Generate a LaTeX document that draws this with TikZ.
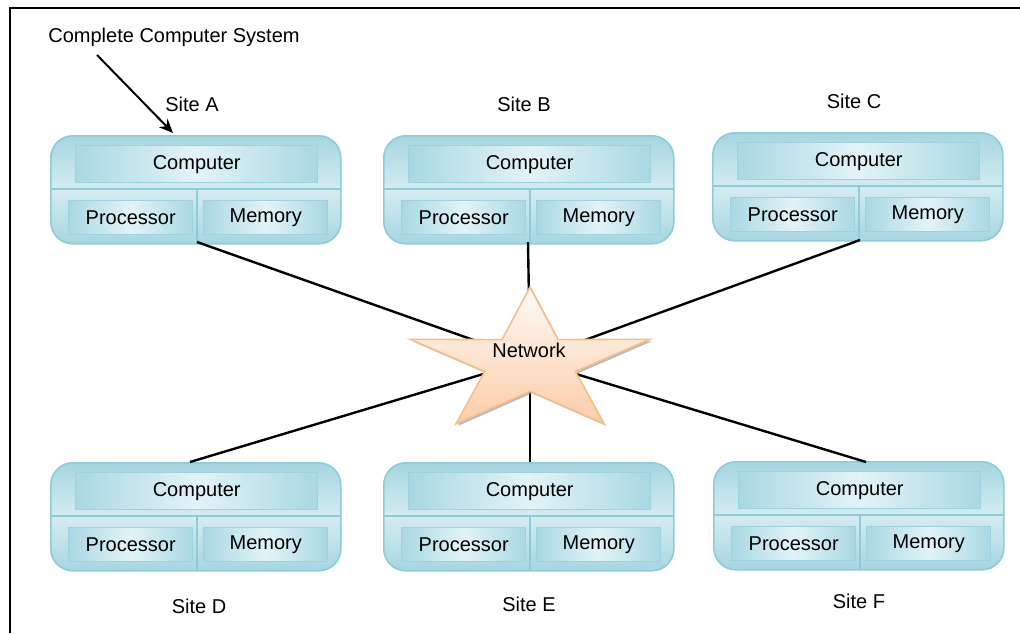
\documentclass[tikz,border=0pt]{standalone}
\usepackage{fontspec}
\setmainfont{Liberation Sans}
\usetikzlibrary{arrows.meta}

\definecolor{boxedge}{HTML}{8FCBD9}
\definecolor{boxdark}{HTML}{A6D6E1}
\definecolor{boxlight}{HTML}{D4ECF1}
\definecolor{celldark}{HTML}{A9D8E3}
\definecolor{celllight}{HTML}{E3F3F7}
\definecolor{celledge}{HTML}{9ED2DE}
\definecolor{staredge}{HTML}{F8BE8C}
\definecolor{startop}{HTML}{FFFBF8}
\definecolor{starbot}{HTML}{FBCDA8}

\tikzset{
  outerbox/.style={draw=boxedge, line width=0.8pt, rounded corners=11pt,
    top color=boxdark, bottom color=boxdark, middle color=boxlight,
    minimum width=145pt, minimum height=54pt, inner sep=0pt, anchor=north west},
  cellbox/.style={draw=celledge, line width=0.7pt,
    left color=celldark, right color=celldark, middle color=celllight,
    inner sep=0pt, anchor=north west},
  wide cell/.style={cellbox, minimum width=121pt, minimum height=18.5pt},
  half cell/.style={cellbox, minimum width=62pt, minimum height=17pt},
  divline/.style={draw=boxedge, line width=0.8pt},
  link/.style={draw=black, line width=1.2pt},
  sitelabel/.style={inner sep=0pt},
}

% one site: name, left x, top y
\newcommand{\sitebox}[3]{%
  \begin{scope}[shift={(#2,#3)}]
    \node[outerbox] (#1) at (0,0) {};
    \draw[divline] (0,54) -- (290,54);
    \draw[divline] (147,54) -- (147,108);
    \node[wide cell] (#1-comp) at (25,10) {Computer};
    \node[half cell] (#1-proc) at (18,65) {Processor};
    \node[half cell] (#1-mem) at (153,65) {Memory};
  \end{scope}}

\begin{document}
\begin{tikzpicture}[x=0.5pt, y=-0.5pt, font=\fontsize{10}{12}\selectfont]
  \useasboundingbox (0,0) rectangle (1020,633);

  % frame edges
  \draw[line width=1pt] (10,633) -- (10,8) -- (1020,8);

  % sites
  \sitebox{A}{50}{135}
  \sitebox{B}{383}{135}
  \sitebox{C}{712}{132}
  \sitebox{D}{50}{462}
  \sitebox{E}{383}{462}
  \sitebox{F}{713}{461}

  % site labels
  \node[sitelabel] (lA) at (192,104) {Site A};
  \node[sitelabel] (lB) at (524,104) {Site B};
  \node[sitelabel] (lC) at (854,101) {Site C};
  \node[sitelabel] (lD) at (199,606) {Site D};
  \node[sitelabel] (lE) at (529,604) {Site E};
  \node[sitelabel] (lF) at (859,601) {Site F};

  % caption with pointer
  \node[anchor=west, inner sep=0pt] (sys) at (48,37) {Complete Computer System};
  \coordinate (sysfoot) at (97,55);
  \coordinate (sitehead) at (173,133);
  \draw[line width=1pt, -{Stealth[length=7pt,width=6pt]}] (sysfoot) -- (sitehead);

  % network hub
  \node[inner sep=0pt] (net) at (530,360) {};
  \coordinate (A-port) at (197,242);
  \coordinate (B-port) at (528,242);
  \coordinate (C-port) at (860,240);
  \coordinate (D-port) at (190,462);
  \coordinate (E-port) at (530,462);
  \coordinate (F-port) at (866,462);
  \foreach \s in {A,B,C,D,E,F} \draw[link] (\s-port) -- (net.center);

  % star
  \def\starpath{(530,287.1) -- (558.0,339.6) -- (649.8,339.3) -- (575.3,371.5)
    -- (604.1,423.9) -- (530,391.3) -- (455.9,423.9) -- (484.7,371.5)
    -- (410.2,339.3) -- (502.0,339.6) -- cycle}
  \begin{scope}[shift={(2,2)}]
    \fill[black!45, opacity=0.6] \starpath;
  \end{scope}
  \draw[draw=staredge, line width=0.8pt, top color=startop, bottom color=starbot] \starpath;
  \node[inner sep=0pt] (netlabel) at (529,350) {Network};
\end{tikzpicture}
\end{document}
